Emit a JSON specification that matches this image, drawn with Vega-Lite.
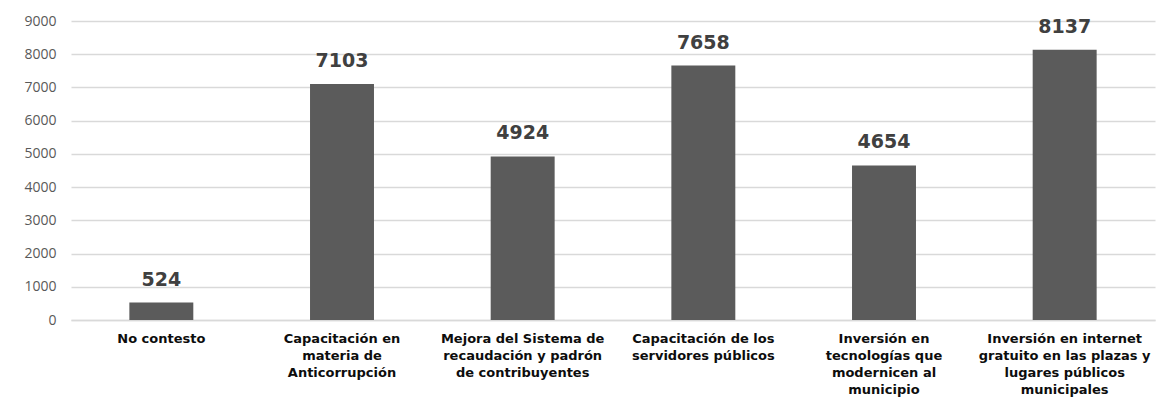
{
  "$schema": "https://vega.github.io/schema/vega-lite/v6.json",
  "autosize": "none",
  "width": 1084,
  "height": 299,
  "padding": {"left": 71, "top": 21, "right": 14, "bottom": 98},
  "background": "white",
  "config": {"view": {"stroke": null}},
  "data": {
    "values": [
      {"category": "No contesto", "value": 524},
      {"category": "Capacitación en|materia de|Anticorrupción", "value": 7103},
      {"category": "Mejora del Sistema de|recaudación y padrón|de contribuyentes", "value": 4924},
      {"category": "Capacitación de los|servidores públicos", "value": 7658},
      {"category": "Inversión en|tecnologías que|modernicen al|municipio", "value": 4654},
      {"category": "Inversión en internet|gratuito en las plazas y|lugares públicos|municipales", "value": 8137}
    ]
  },
  "encoding": {
    "x": {
      "field": "category",
      "type": "nominal",
      "sort": null,
      "scale": {"paddingInner": 0.646, "paddingOuter": 0.323},
      "axis": {
        "title": null,
        "labelAngle": 0,
        "labelExpr": "split(datum.label, '|')",
        "labelFont": "DejaVu Sans",
        "labelFontWeight": "bold",
        "labelFontSize": 13,
        "labelLineHeight": 17,
        "labelColor": "#0d0d0d",
        "labelPadding": 12,
        "labelLimit": 400,
        "labelBaseline": "top",
        "ticks": false,
        "domain": true,
        "domainColor": "#d9d9d9",
        "domainWidth": 1.5,
        "grid": false
      }
    },
    "y": {
      "field": "value",
      "type": "quantitative",
      "scale": {"domain": [0, 9000], "nice": false},
      "axis": {
        "title": null,
        "values": [0, 1000, 2000, 3000, 4000, 5000, 6000, 7000, 8000, 9000],
        "format": "d",
        "labelFont": "Open Sans",
        "labelFontSize": 14,
        "labelColor": "#595959",
        "labelPadding": 15,
        "ticks": false,
        "domain": false,
        "grid": true,
        "gridColor": "#d9d9d9",
        "gridWidth": 1.5
      }
    }
  },
  "layer": [
    {"mark": {"type": "bar", "color": "#5b5b5b"}},
    {
      "mark": {
        "type": "text",
        "font": "DejaVu Sans",
        "fontWeight": "bold",
        "fontSize": 19,
        "color": "#404040",
        "baseline": "alphabetic",
        "dy": -17
      },
      "encoding": {"text": {"field": "value", "type": "quantitative", "format": "d"}}
    }
  ]
}
